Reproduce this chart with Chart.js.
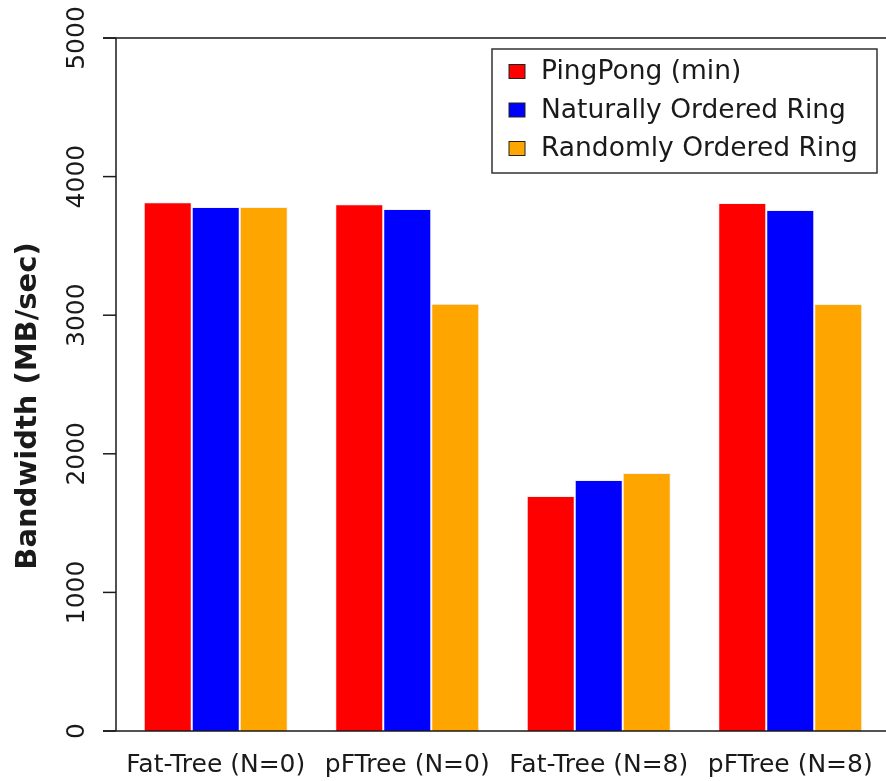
<!DOCTYPE html>
<html>
<head>
<meta charset="utf-8">
<script src="https://cdn.jsdelivr.net/npm/chart.js@4.4.1/dist/chart.umd.min.js"></script>
<style>
  html, body { margin: 0; padding: 0; background: #fff; }
  #wrap { width: 886px; height: 781px; position: relative; }
</style>
</head>
<body>
<div id="wrap"><canvas id="bwChart"></canvas></div>
<script>
// categories and series (MB/sec)
var categories = ['Fat-Tree (N=0)', 'pFTree (N=0)', 'Fat-Tree (N=8)', 'pFTree (N=8)'];
var pingPong = [3815, 3800, 1696, 3810];
var naturalRing = [3780, 3766, 1811, 3759];
var randomRing = [3780, 3083, 1861, 3081];
var yTicks = [0, 1000, 2000, 3000, 4000, 5000];
var seriesNames = ['PingPong (min)', 'Naturally Ordered Ring', 'Randomly Ordered Ring'];

var FONT = '"DejaVu Sans", sans-serif';
var INK = '#1a1a1a';

// draws the R-style axis, frame lines, y title and boxed legend
var frameAndLegend = {
        id: 'frameAndLegend',
        afterDraw: function (chart) {
                var ctx = chart.ctx;
                var area = chart.chartArea;
                var y = chart.scales.y;
                var axisX = area.left - 4;
                ctx.save();
                ctx.strokeStyle = INK;
                ctx.lineWidth = 1.5;

                // top and bottom lines
                ctx.beginPath();
                ctx.moveTo(axisX - 13, y.getPixelForValue(5000));
                ctx.lineTo(chart.width, y.getPixelForValue(5000));
                ctx.moveTo(axisX - 13, y.getPixelForValue(0));
                ctx.lineTo(chart.width, y.getPixelForValue(0));
                // y axis line
                ctx.moveTo(axisX, y.getPixelForValue(0));
                ctx.lineTo(axisX, y.getPixelForValue(5000));
                ctx.stroke();

                // ticks + rotated labels
                ctx.fillStyle = INK;
                ctx.font = '25px ' + FONT;
                ctx.textAlign = 'center';
                ctx.textBaseline = 'middle';
                yTicks.forEach(function (v) {
                        var py = y.getPixelForValue(v);
                        ctx.beginPath();
                        ctx.moveTo(axisX - 13, py);
                        ctx.lineTo(axisX, py);
                        ctx.stroke();
                        ctx.save();
                        ctx.translate(77, py);
                        ctx.rotate(-Math.PI / 2);
                        ctx.fillText(String(v), 0, 0);
                        ctx.restore();
                });

                // y title
                ctx.save();
                ctx.translate(28, 406);
                ctx.rotate(-Math.PI / 2);
                ctx.font = 'bold 29px ' + FONT;
                ctx.fillText('Bandwidth (MB/sec)', 0, 0);
                ctx.restore();

                // legend
                ctx.lineWidth = 1.5;
                ctx.strokeStyle = '#333';
                ctx.strokeRect(492, 49, 385, 124);
                ctx.font = '26.5px ' + FONT;
                ctx.textAlign = 'left';
                var rowY = [71.5, 110, 148.5];
                chart.data.datasets.forEach(function (ds, i) {
                        ctx.fillStyle = ds.backgroundColor;
                        ctx.fillRect(509, rowY[i] - 7, 16, 14);
                        ctx.lineWidth = 1;
                        ctx.strokeStyle = '#222';
                        ctx.strokeRect(509, rowY[i] - 7, 16, 14);
                        ctx.fillStyle = INK;
                        ctx.fillText(ds.label, 541, rowY[i] + 1);
                });
                ctx.restore();
        }
};

var bwData = {
        labels: categories,
        datasets: [
                { label: seriesNames[0], data: pingPong, backgroundColor: '#FF0000' },
                { label: seriesNames[1], data: naturalRing, backgroundColor: '#0000FF' },
                { label: seriesNames[2], data: randomRing, backgroundColor: '#FFA500' }
        ]
};
bwData.datasets.forEach(function (ds) {
        ds.borderColor = 'rgba(240,240,240,0.9)';
        ds.borderWidth = 1;
        ds.categoryPercentage = 0.752;
        ds.barPercentage = 1.0;
});

var bwConfig = {
        type: 'bar',
        data: bwData,
        options: {
                responsive: true,
                maintainAspectRatio: false,
                animation: false,
                layout: { padding: { left: 120, top: 38, right: 0, bottom: 0 } },
                plugins: {
                        legend: { display: false },
                        tooltip: { enabled: false }
                },
                scales: {
                        x: {
                                grid: { display: false, drawTicks: false },
                                border: { display: false },
                                ticks: {
                                        color: INK,
                                        padding: 19,
                                        maxRotation: 0,
                                        autoSkip: false,
                                        font: { family: FONT, size: 25 }
                                },
                                afterFit: function (s) {
                                        s.height = 50;
                                        s.paddingLeft = 0;
                                        s.paddingRight = 0;
                                }
                        },
                        y: {
                                display: false,
                                min: 0,
                                max: 5000
                        }
                }
        },
        plugins: [frameAndLegend]
};

var ctx = document.getElementById('bwChart').getContext('2d');
var bwChart = new Chart(ctx, bwConfig);
</script>
</body>
</html>
